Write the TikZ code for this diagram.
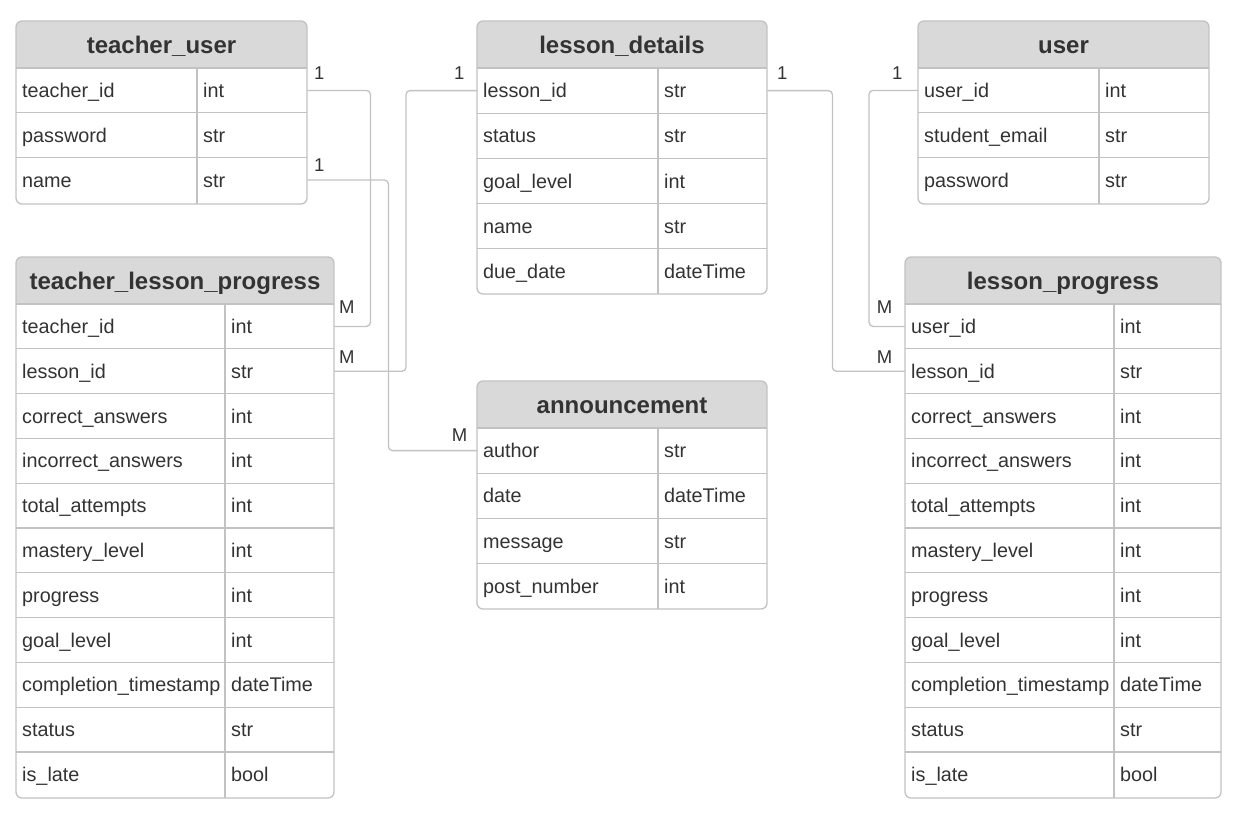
\documentclass[tikz,border=0pt]{standalone}
\usepackage{fontspec}
\setmainfont{Liberation Sans}
\definecolor{hdrgray}{HTML}{D9D9D9}
\definecolor{linegray}{HTML}{C2C2C2}
\definecolor{txtgray}{HTML}{333333}

\begin{document}
\begin{tikzpicture}[x=1pt,y=-1pt,
    frame/.style={draw=linegray, line width=1.3pt, rounded corners=6pt},
    sep/.style={draw=linegray, line width=1.1pt},
    row/.style={anchor=west, inner xsep=6pt, inner ysep=0pt, align=left, text=txtgray,
        text height=16pt, text depth=2pt, font=\fontsize{19.8}{20}\selectfont},
    ttl/.style={text=txtgray, text height=20pt, text depth=2pt,
        font=\fontsize{24}{24}\selectfont\bfseries},
    link/.style={draw=linegray, line width=1.3pt, rounded corners=4pt},
    card/.style={text=txtgray, font=\fontsize{18.5}{18}\selectfont}]
            \tikzstyle{every node}+=[inner sep=0pt]
            \useasboundingbox (0,0) rectangle (1238,830);
            % teacher_user
            \begin{scope}
            \clip[rounded corners=6pt] (16,21) rectangle (307,204);
            \fill[hdrgray] (16,21) rectangle (307,68);
            \end{scope}
            \node[ttl] (tu) at (161.5,44.5) {teacher\_user};
            \foreach \f/\t [count=\i] in {teacher\_id/int, password/str, name/str} {
                \node[row, text width=279pt] (tu-\i) at (16,68+44.8*\i-22.4) {\f};
                \node[row] at (197,68+44.8*\i-22.4) {\t};
                \draw[sep] (16,68+44.8*\i-44.8) -- (307,68+44.8*\i-44.8);
            }
            \draw[sep] (197,68) -- (197,204);
            \draw[frame] (16,21) rectangle (307,204);
            % teacher_lesson_progress
            \begin{scope}
            \clip[rounded corners=6pt] (16,257) rectangle (334,798);
            \fill[hdrgray] (16,257) rectangle (334,304);
            \end{scope}
            \node[ttl] (tlp) at (175,280.5) {teacher\_lesson\_progress};
            \foreach \f/\t [count=\i] in {teacher\_id/int, lesson\_id/str, correct\_answers/int,
                incorrect\_answers/int, total\_attempts/int, mastery\_level/int, progress/int,
                goal\_level/int, completion\_timestamp/dateTime, status/str, is\_late/bool} {
                \node[row, text width=306pt] (tlp-\i) at (16,304+44.8*\i-22.4) {\f};
                \node[row] at (225,304+44.8*\i-22.4) {\t};
                \draw[sep] (16,304+44.8*\i-44.8) -- (334,304+44.8*\i-44.8);
            }
            \draw[sep] (225,304) -- (225,798);
            \draw[frame] (16,257) rectangle (334,798);
            % lesson_details
            \begin{scope}
            \clip[rounded corners=6pt] (477,21) rectangle (767,294);
            \fill[hdrgray] (477,21) rectangle (767,68);
            \end{scope}
            \node[ttl] (ld) at (622,44.5) {lesson\_details};
            \foreach \f/\t [count=\i] in {lesson\_id/str, status/str, goal\_level/int, name/str,
                due\_date/dateTime} {
                \node[row, text width=278pt] (ld-\i) at (477,68+45.2*\i-22.6) {\f};
                \node[row] at (658,68+45.2*\i-22.6) {\t};
                \draw[sep] (477,68+45.2*\i-45.2) -- (767,68+45.2*\i-45.2);
            }
            \draw[sep] (658,68) -- (658,294);
            \draw[frame] (477,21) rectangle (767,294);
            % announcement
            \begin{scope}
            \clip[rounded corners=6pt] (477,381) rectangle (767,609);
            \fill[hdrgray] (477,381) rectangle (767,428);
            \end{scope}
            \node[ttl] (an) at (622,404.5) {announcement};
            \foreach \f/\t [count=\i] in {author/str, date/dateTime, message/str, post\_number/int} {
                \node[row, text width=278pt] (an-\i) at (477,428+45.2*\i-22.6) {\f};
                \node[row] at (658,428+45.2*\i-22.6) {\t};
                \draw[sep] (477,428+45.2*\i-45.2) -- (767,428+45.2*\i-45.2);
            }
            \draw[sep] (658,428) -- (658,609);
            \draw[frame] (477,381) rectangle (767,609);
            % user
            \begin{scope}
            \clip[rounded corners=6pt] (918,21) rectangle (1209,204);
            \fill[hdrgray] (918,21) rectangle (1209,68);
            \end{scope}
            \node[ttl] (us) at (1063.5,44.5) {user};
            \foreach \f/\t [count=\i] in {user\_id/int, student\_email/str, password/str} {
                \node[row, text width=279pt] (us-\i) at (918,68+44.8*\i-22.4) {\f};
                \node[row] at (1099,68+44.8*\i-22.4) {\t};
                \draw[sep] (918,68+44.8*\i-44.8) -- (1209,68+44.8*\i-44.8);
            }
            \draw[sep] (1099,68) -- (1099,204);
            \draw[frame] (918,21) rectangle (1209,204);
            % lesson_progress
            \begin{scope}
            \clip[rounded corners=6pt] (905,257) rectangle (1221,798);
            \fill[hdrgray] (905,257) rectangle (1221,304);
            \end{scope}
            \node[ttl] (lp) at (1063,280.5) {lesson\_progress};
            \foreach \f/\t [count=\i] in {user\_id/int, lesson\_id/str, correct\_answers/int,
                incorrect\_answers/int, total\_attempts/int, mastery\_level/int, progress/int,
                goal\_level/int, completion\_timestamp/dateTime, status/str, is\_late/bool} {
                \node[row, text width=304pt] (lp-\i) at (905,304+44.8*\i-22.4) {\f};
                \node[row] at (1114,304+44.8*\i-22.4) {\t};
                \draw[sep] (905,304+44.8*\i-44.8) -- (1221,304+44.8*\i-44.8);
            }
            \draw[sep] (1114,304) -- (1114,798);
            \draw[frame] (905,257) rectangle (1221,798);
            % links
            \draw[link] (tu-1.east) node[card, anchor=south west, xshift=6pt, yshift=10pt] {1}
                -- ++(63,0) |- (tlp-1.east) node[card, anchor=south west, xshift=4pt, yshift=12pt] {M};
            \draw[link] (tu-3.east) node[card, anchor=south west, xshift=6pt, yshift=8pt] {1}
                -- ++(81,0) |- (an-1.west) node[card, anchor=south east, xshift=-9pt, yshift=8pt] {M};
            \draw[link] (ld-1.west) node[card, anchor=south east, xshift=-12pt, yshift=10pt] {1}
                -- ++(-71,0) |- (tlp-2.east) node[card, anchor=south west, xshift=4pt, yshift=7pt] {M};
            \draw[link] (ld-1.east) node[card, anchor=south west, xshift=9pt, yshift=10pt] {1}
                -- ++(65,0) |- (lp-2.west) node[card, anchor=south east, xshift=-12pt, yshift=7pt] {M};
            \draw[link] (us-1.west) node[card, anchor=south east, xshift=-15pt, yshift=10pt] {1}
                -- ++(-49,0) |- (lp-1.west) node[card, anchor=south east, xshift=-12pt, yshift=12pt] {M};
\end{tikzpicture}
\end{document}
